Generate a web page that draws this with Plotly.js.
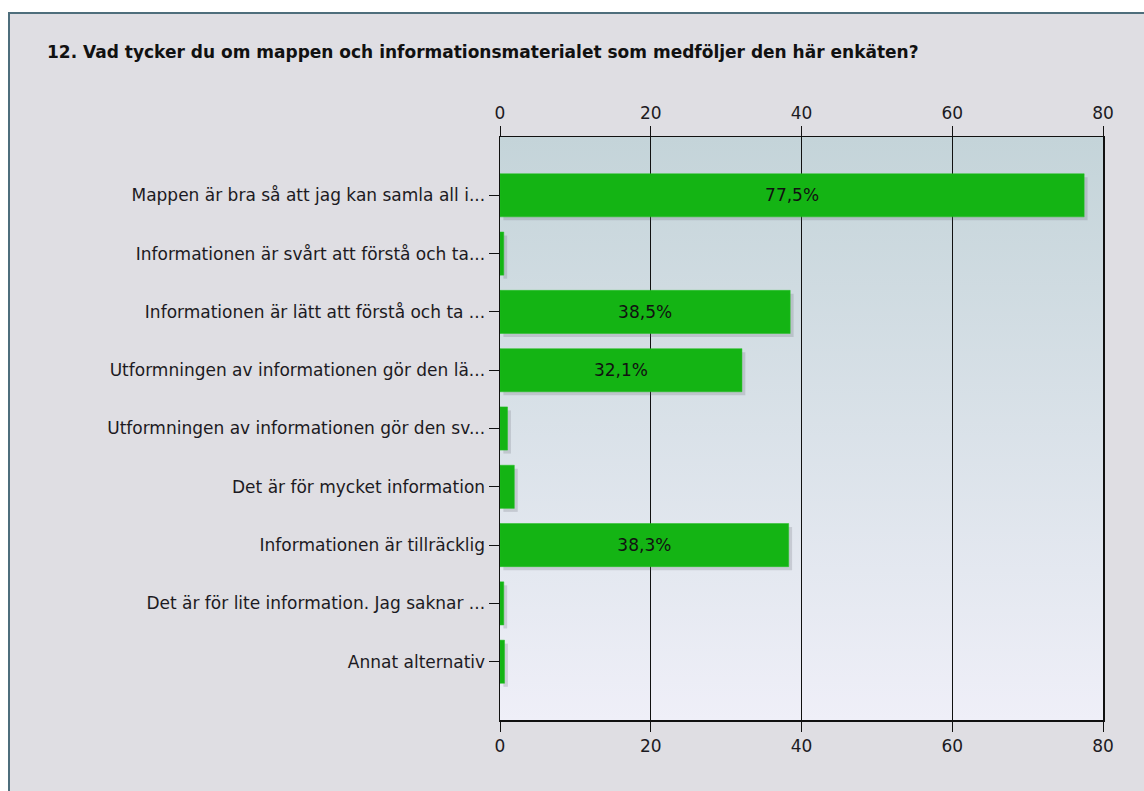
<!DOCTYPE html>
<html>
<head>
<meta charset="utf-8">
<script src="https://cdn.plot.ly/plotly-3.0.1.min.js"></script>
<style>
  html, body { margin: 0; padding: 0; background: #ffffff; width: 1144px; height: 791px; overflow: hidden; }
  #frame { position: absolute; left: 8px; top: 12px; width: 1136px; height: 779px;
           border-left: 2px solid #4e6e7c; border-top: 2px solid #4e6e7c; background: #dfdee3; }
  #chart { width: 1134px; height: 777px; }
</style>
</head>
<body>
<div id="frame"><div id="chart"></div></div>
<script>
const categories = [
  "Mappen är bra så att jag kan samla all i...",
  "Informationen är svårt att förstå och ta...",
  "Informationen är lätt att förstå och ta ...",
  "Utformningen av informationen gör den lä...",
  "Utformningen av informationen gör den sv...",
  "Det är för mycket information",
  "Informationen är tillräcklig",
  "Det är för lite information. Jag saknar ...",
  "Annat alternativ"
];
const percentages = [77.5, 0.5, 38.5, 32.1, 1.0, 1.9, 38.3, 0.5, 0.6];
const xTicks = [0, 20, 40, 60, 80];
const titleText = "12. Vad tycker du om mappen och informationsmaterialet som medföljer den här enkäten?";

const barLabels = percentages.map(v => v >= 5 ? v.toFixed(1).replace('.', ',') + '%' : '');

const FONT = "DejaVu Sans, Verdana, sans-serif";
const FS = 17;
const xRange = [0, 80];
const yRange = [categories.length, -1];
const sx = 0.45, sy = 0.06;

const gradSvg = '<svg xmlns="http://www.w3.org/2000/svg" width="10" height="100" preserveAspectRatio="none">' +
  '<defs><linearGradient id="g" x1="0" y1="0" x2="0" y2="1">' +
  '<stop offset="0" stop-color="#c4d4d9"/><stop offset="1" stop-color="#efeff8"/></linearGradient></defs>' +
  '<rect width="10" height="100" fill="url(#g)"/></svg>';
const gradUrl = 'data:image/svg+xml;base64,' + btoa(gradSvg);

const traces = [
  { type: 'scatter', mode: 'markers', x: percentages, y: categories, xaxis: 'x', yaxis: 'y',
    marker: { opacity: 0 }, hoverinfo: 'skip', showlegend: false },
  { type: 'bar', orientation: 'h', x: percentages, y: categories, xaxis: 'x2', yaxis: 'y2',
    width: 0.74, marker: { color: 'rgba(90,90,100,0.2)' }, hoverinfo: 'skip', showlegend: false },
  { type: 'bar', orientation: 'h', x: percentages, y: categories, xaxis: 'x3', yaxis: 'y3',
    width: 0.74, marker: { color: '#14b414', line: { color: '#22c022', width: 0.5 } },
    text: barLabels, textposition: 'inside', insidetextanchor: 'middle', constraintext: 'none',
    textfont: { family: FONT, size: FS, color: '#111111' }, hoverinfo: 'skip', showlegend: false }
];

const catAxis = { type: 'category', categoryorder: 'array', categoryarray: categories };

const layout = {
  width: 1134, height: 777,
  margin: { l: 490, r: 41, t: 123, b: 71 },
  paper_bgcolor: '#dfdee3',
  plot_bgcolor: 'rgba(0,0,0,0)',
  font: { family: FONT, size: FS, color: '#1c1a22' },
  title: { text: '<b>' + titleText + '</b>', xref: 'container', yref: 'container',
           x: 37 / 1134, xanchor: 'left', y: 1 - 38 / 777, yanchor: 'middle',
           font: { family: FONT, size: FS, color: '#111111' } },
  showlegend: false,
  barmode: 'overlay',
  xaxis: { range: xRange, side: 'top', tickvals: xTicks, ticks: 'outside', ticklen: 10,
           tickcolor: '#111', showline: true, linecolor: '#111', linewidth: 1.5,
           showgrid: true, gridcolor: '#111', gridwidth: 1.2, zeroline: false, fixedrange: true,
           tickfont: { size: FS } },
  yaxis: Object.assign({}, catAxis, { range: yRange, ticks: 'outside', ticklen: 10, tickcolor: '#111',
           showline: true, linecolor: '#111', linewidth: 1.5, mirror: true, showgrid: false,
           zeroline: false, fixedrange: true, tickfont: { size: FS } }),
  xaxis2: { range: [xRange[0] - sx, xRange[1] - sx], overlaying: 'x', visible: false, fixedrange: true },
  yaxis2: Object.assign({}, catAxis, { range: [yRange[0] - sy, yRange[1] - sy], overlaying: 'y', visible: false, fixedrange: true }),
  xaxis3: { range: xRange, overlaying: 'x', side: 'bottom', tickvals: xTicks, ticks: 'outside', ticklen: 10,
            tickcolor: '#111', showline: true, linecolor: '#111', linewidth: 1.5, showgrid: false,
            zeroline: false, fixedrange: true, tickfont: { size: FS } },
  yaxis3: Object.assign({}, catAxis, { range: yRange, overlaying: 'y', visible: false, fixedrange: true }),
  images: [{ source: gradUrl, xref: 'paper', yref: 'paper', x: 0, y: 1, sizex: 1, sizey: 1,
             xanchor: 'left', yanchor: 'top', sizing: 'stretch', layer: 'below' }]
};

Plotly.newPlot('chart', traces, layout, { displayModeBar: false, staticPlot: true });
</script>
</body>
</html>
